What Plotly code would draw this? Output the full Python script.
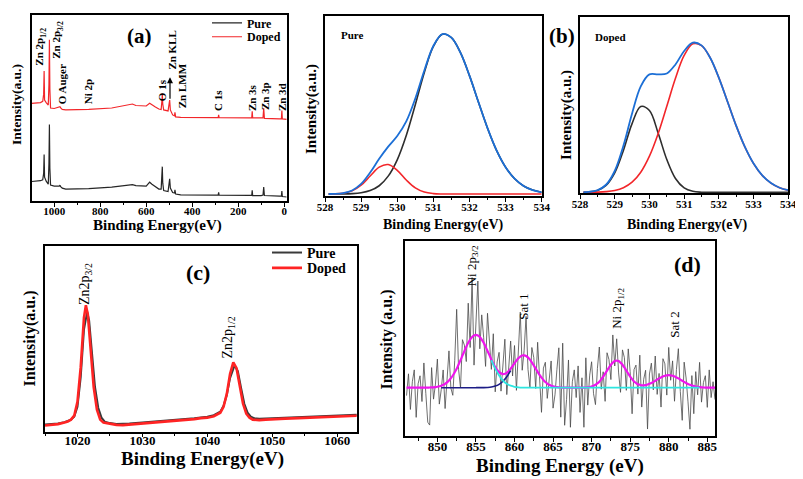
import plotly.graph_objects as go

FONT = "Liberation Serif, Times New Roman, serif"
# the page body adds an 8px margin, so the figure is drawn 8px smaller and shifted
OFF = 8
W, H = 803 - OFF, 479 - OFF

# ---- (a) survey spectra ----
survey_be = [1098, 1060, 1050, 1046, 1044, 1042, 1035, 1026, 1023, 1021, 1019, 1016,
             1000, 978, 975, 972, 965, 950, 850, 750, 660, 645, 600, 585, 575, 560,
             545, 535, 531, 530, 528, 524, 505, 500, 498, 495, 485, 477, 475, 472,
             450, 300, 287, 285, 283, 150, 141, 139, 137, 100, 92, 89, 86, 20, 12,
             10, 8, -11]
survey_pure = [19.7, 20.5, 21.5, 28, 47, 24, 20, 17, 38, 77.3, 33, 16,
               15, 15, 16, 14.5, 13, 12, 12.5, 14, 16.5, 15.5, 15, 19, 17, 14.5,
               12, 12, 23, 34.7, 18, 10.5, 9.5, 16, 22.3, 13, 8.5, 8, 11.3, 7,
               6.2, 6, 6, 8.7, 6, 5.7, 5.7, 10.7, 5.5, 5.5, 6, 14, 5.5, 5, 5,
               10, 4.5, 4]
survey_doped = [98.7, 99.5, 100.7, 108, 131.3, 102, 99.5, 97, 118, 163, 113, 94,
                93.5, 94.5, 95.3, 94, 92.5, 92, 92.5, 94, 98, 96.5, 96, 98.7, 97, 95,
                93, 92.5, 103, 108.7, 98, 92, 91, 98, 102, 92, 87, 86, 89.7, 85,
                84.5, 84.2, 84.2, 87, 84.2, 84, 84, 90.7, 84, 84, 84, 93.7, 83.5, 83, 83,
                91.3, 83, 82.5]

# ---- O 1s fits (pure / doped) ----
o1s_be = [528.1, 528.25, 528.5, 528.75, 529.0, 529.25, 529.5, 529.75, 530.0, 530.25,
          530.5, 530.75, 531.0, 531.25, 531.5, 531.75, 532.0, 532.25, 532.5, 532.75,
          533.0, 533.25, 533.5, 533.75, 534.0]
pure_main = [0.01, 0.03, 0.13, 0.43, 1.3, 3.5, 8.4, 18.1, 34.6, 59.2, 90.3, 122.9, 149.2,
             161.6, 158.1, 142.9, 119.7, 92.8, 66.6, 44.2, 27.2, 15.5, 8.2, 4.0, 1.8]
pure_low = [0.05, 0.17, 0.85, 3.2, 8.9, 18.2, 27.2, 29.8, 24.0, 14.2, 6.2, 2.0, 0.46,
            0.08, 0, 0, 0, 0, 0, 0, 0, 0, 0, 0, 0]
pure_env = [0.06, 0.2, 1.0, 3.6, 10.2, 21.7, 35.6, 47.9, 58.6, 73.4, 96.5, 124.9, 149.7,
            161.7, 158.1, 142.9, 119.7, 92.8, 66.6, 44.2, 27.2, 15.5, 8.2, 4.0, 1.8]
doped_main = [0.03, 0.08, 0.25, 0.73, 1.9, 4.7, 10.3, 20.4, 36.6, 59.3, 87.0, 115.3, 138.4,
              150.2, 148.4, 136.0, 115.8, 91.6, 67.2, 45.9, 29.1, 17.1, 9.4, 4.7, 2.2]
doped_low = [0.13, 0.39, 1.9, 7.0, 19.7, 42.4, 69.5, 86.8, 82.7, 60.0, 33.2, 14.0, 4.5,
             1.1, 0.2, 0, 0, 0, 0, 0, 0, 0, 0, 0, 0]
doped_env = [0.16, 0.47, 2.15, 7.7, 21.6, 47.1, 79.8, 107.2, 119.3, 119.3, 120.2, 129.3,
             142.9, 151.3, 148.6, 136.0, 115.8, 91.6, 67.2, 45.9, 29.1, 17.1, 9.4, 4.7, 2.2]

# ---- (c) Zn 2p ----
zn_be_doped = [1015, 1016, 1017, 1018, 1018.5, 1019, 1019.5, 1020, 1020.5, 1021, 1021.3,
               1021.6, 1022, 1022.5, 1023, 1023.5, 1024, 1025, 1026, 1027, 1028, 1029,
               1030, 1031, 1032, 1033, 1034, 1035, 1036, 1037, 1038, 1039, 1040, 1041,
               1042, 1042.5, 1043, 1043.5, 1044, 1044.5, 1045, 1045.5, 1046, 1046.5,
               1047, 1048, 1049, 1050, 1052, 1054, 1056, 1058, 1060, 1062, 1063]
zn_doped = [6, 6.5, 7.5, 9, 10, 12, 16, 30, 65, 115, 127.7,
            118, 85, 45, 22, 12, 9, 7.5, 6.7, 6.5, 7, 7.5,
            8, 8.5, 9, 9.5, 10.5, 11, 11.5, 12, 12.5, 13.5, 14, 15.5,
            19, 25, 38, 58, 70, 64, 45, 28, 18, 14,
            12, 11.5, 12, 12.5, 13, 13.5, 14, 14.5, 15, 15.5, 16]
zn_be_pure = [1015, 1016, 1017, 1018, 1018.5, 1019, 1019.5, 1020, 1020.5, 1021, 1021.5,
              1021.8, 1022.2, 1022.7, 1023.2, 1023.7, 1024.2, 1025, 1026, 1027, 1028,
              1030, 1032, 1034, 1036, 1038, 1040, 1041, 1042, 1042.5, 1043, 1043.5,
              1044.2, 1044.7, 1045.2, 1045.7, 1046.2, 1046.7, 1047.2, 1048, 1050, 1052,
              1054, 1056, 1058, 1060, 1063]
zn_pure = [7, 7.5, 8, 9.5, 10.5, 12, 15, 25, 55, 103, 121,
           112, 82, 45, 24, 14, 10, 8.5, 7.5, 7.5, 8,
           9, 10, 11.5, 12.5, 13.5, 15, 16.5, 20, 26, 37, 54,
           66.7, 61, 44, 28, 19, 15, 13.5, 13, 13.5, 14,
           14.5, 15, 15.5, 16, 17]

# ---- (d) Ni 2p ----
ni_be = [846 + 0.25 * i for i in range(161)]
ni_raw = [-8, 14, -22, 6, 18, -30, 4, 12, -14, 25,
          -5.9, -34.9, -37.8, 20.3, -11.6, 3.6, 28.9, -16.6, -2, 17.9,
          -21.1, 13.4, 37.2, -0.4, -7.7, 27.6, 79.2, 18.5, -0.2, 48.5,
          43, 26.4, 85.4, 40.6, 111.3, 22.8, 63.4, 107.8, 39.3, 73.6,
          50.5, 21.5, 75.2, 47.9, 18.5, 54.5, -4.2, 26, 35.7, -3.5,
          25.7, 49, -7, 21.8, 47.2, 11.8, 42.6, -2.7, 39.7, 76.4,
          17.6, 37.7, 72.1, 18.5, 0.4, 40.6, 30.4, -0.8, 45.9, 7.9,
          -24.9, 19.8, 25.7, -10.8, 7.9, 27, -20.7, -7.2, 18.5, 40.3,
          -29.8, 45, -38, -12, 28, -40, 6, 18, -10, 22,
          -25, 10, -40, 30.2, -17.6, 12.7, 26.2, -6.1, -17.1, 19.3,
          41.1, -1.5, 16.1, -13.8, 35.3, 28.4, 8.2, 53.3, 21.9, 49.4,
          14.9, -4.7, 38.2, 30.4, -2.7, 39.2, 16.2, -26.4, 18.3, 22.8,
          -6.5, 32.9, -19.6, 8.4, 17.6, -41.8, 13.9, 24.8, -2.2, 32,
          -6.8, 14.4, -19.6, 29.3, 24.1, -7.5, 40.7, 7.5, 27.1, -13.7,
          18.4, 39.4, -3.8, -33, 25.8, 9.8, -14.3, -42, 12.2, -26.3,
          16.2, -7.2, 25.6, -14.6, 5.2, 12.1, -19.9, 18, -10, 6,
          -12]
ni_env = [0, 0, 0, 0, 0, 0, 0, 0, 0, 0,
          0.1, 0.1, 0.2, 0.3, 0.4, 0.6, 0.9, 1.4, 2.0, 2.9,
          3.9, 5.4, 7.2, 9.6, 12.3, 15.6, 19.2, 23.5, 27.8, 32.5,
          37.0, 41.4, 45.4, 48.6, 51.3, 52.8, 53.4, 52.8, 51.3, 48.6,
          45.5, 41.5, 37.2, 32.9, 28.5, 24.5, 20.8, 18.0, 15.7, 14.5,
          13.7, 14.0, 15.0, 16.8, 19.2, 21.8, 24.6, 27.3, 29.7, 31.4,
          32.6, 32.7, 32.1, 30.5, 28.4, 25.6, 22.4, 19.2, 15.9, 12.9,
          10.1, 7.8, 5.7, 4.2, 2.9, 2.0, 1.3, 0.8, 0.5, 0.3,
          0.2, 0.1, 0.1, 0, 0, 0, 0, 0, 0, 0,
          0, 0, 0, 0.2, 0.4, 0.7, 1.2, 1.9, 2.9, 4.3,
          6.1, 8.5, 11.1, 14.2, 17.3, 20.4, 23.2, 25.3, 26.9, 27.4,
          26.9, 25.3, 23.2, 20.4, 17.3, 14.2, 11.2, 8.6, 6.3, 4.8,
          3.5, 2.9, 2.4, 2.4, 2.6, 3.2, 3.9, 4.8, 5.8, 7.0,
          8.2, 9.4, 10.4, 11.3, 12.1, 12.5, 12.7, 12.5, 12.1, 11.3,
          10.4, 9.4, 8.2, 7.0, 5.8, 4.8, 3.75, 3.0, 2.2, 1.7,
          1.2, 0.8, 0.6, 0.4, 0.2, 0.1, 0.1, 0, 0, 0,
          0]
sat1_be = [850.5, 851, 852, 853, 854, 855, 856, 856.5, 857, 857.5, 858, 858.5, 859, 859.5]
sat1_fit = [0, 0, 0, 0, 0, 0, 0.08, 0.24, 0.65, 1.6, 3.4, 6.5, 11.1, 17.2]
main_be = [857, 857.5, 858, 858.5, 859, 859.5, 860, 860.5, 861, 862, 866, 870, 876, 878, 884]
main_fit = [27.8, 19.2, 12.3, 7.2, 3.9, 2.0, 0.9, 0.4, 0.15, 0, 0, 0, 0, 0, 0]

BLACK = "#262626"
RED = "#f2262a"
BLUE = "#1c6fd6"

fig = go.Figure()


def line(x, y, color, width, ax, name=None, legend=None, shape="linear"):
    fig.add_trace(go.Scatter(
        x=x, y=y, mode="lines", name=name,
        line=dict(color=color, width=width, shape=shape),
        xaxis="x" + ax, yaxis="y" + ax,
        showlegend=legend is not None, legend=legend or "legend",
        hoverinfo="skip",
    ))


line(survey_be, survey_pure, BLACK, 1.2, "", "Pure", "legend")
line(survey_be, survey_doped, RED, 1.2, "", "Doped", "legend2")

line(o1s_be, pure_main, "#2e2e2e", 1.6, "2", shape="spline")
line(o1s_be, pure_low, RED, 1.6, "2", shape="spline")
line(o1s_be, pure_env, BLUE, 1.8, "2", shape="spline")

line(o1s_be, doped_low, "#2e2e2e", 1.6, "3", shape="spline")
line(o1s_be, doped_main, RED, 1.6, "3", shape="spline")
line(o1s_be, doped_env, BLUE, 1.8, "3", shape="spline")

line(zn_be_pure, zn_pure, "#3a3a3a", 2.0, "4", "Pure", "legend3")
line(zn_be_doped, zn_doped, "#ff2424", 2.6, "4", "Doped", "legend4")

line(ni_be, ni_raw, "#4a4a4a", 0.8, "5")
line(ni_be, ni_env, "#f014ee", 2.2, "5", shape="spline")
line(sat1_be, sat1_fit, "#1c1c86", 1.6, "5", shape="spline")
line(main_be, main_fit, "#2ee6e0", 1.8, "5", shape="spline")


# reference pixel positions -> paper fractions
def fx(x):
    return (x - OFF) / W


def fy(y):
    return 1 - (y - OFF) / H


def px(x0, x1):
    return [fx(x0), fx(x1)]


def py(top, bottom):
    return [fy(bottom), fy(top)]


def xaxis(domain, rng, dtick, minor, size, anchor, standoff):
    return dict(domain=domain, range=rng, anchor=anchor, dtick=dtick, tick0=0,
                automargin=False, ticklabelstandoff=standoff,
                ticks="outside", ticklen=4, tickwidth=1.2, tickcolor="black",
                showline=True, linecolor="black", linewidth=1.5, mirror=True,
                showgrid=False, zeroline=False,
                tickfont=dict(family=FONT, size=size, color="black", weight="bold"),
                minor=dict(dtick=minor, ticks="outside", ticklen=2.5, tickcolor="black",
                           showgrid=False))


def yaxis(domain, rng, anchor):
    return dict(domain=domain, range=rng, anchor=anchor, showline=True, linecolor="black",
                automargin=False,
                linewidth=1.5, mirror=True, ticks="", showticklabels=False,
                showgrid=False, zeroline=False)


fig.update_layout(
    xaxis=xaxis(px(31.7, 286.7), [1098, -11], 200, 100, 11, "y", -5),
    yaxis=yaxis(py(10, 198), [0, 188], "x"),
    xaxis2=xaxis(px(325, 541.7), [528, 534], 1, 0.5, 11, "y2", -4),
    yaxis2=yaxis(py(11, 193), [-2, 180], "x2"),
    xaxis3=xaxis(px(580, 788.3), [528, 534], 1, 0.5, 11, "y3", -4),
    yaxis3=yaxis(py(12.3, 190), [-0.7, 177], "x3"),
    xaxis4=xaxis(px(45, 357.3), [1015, 1063.1], 10, 5, 13, "y4", -8),
    yaxis4=yaxis(py(243.3, 431), [0, 187.7], "x4"),
    xaxis5=xaxis(px(405, 715), [845.8, 886], 5, 2.5, 13, "y5", -7),
    yaxis5=yaxis(py(238.3, 436), [-49.3, 148.4], "x5"),
)


def lab(text, x, y, size, angle=0, bold=True):
    fig.add_annotation(
        text=f"<b>{text}</b>" if bold else text,
        x=fx(x), y=fy(y), xref="paper", yref="paper",
        showarrow=False, textangle=angle, xanchor="center", yanchor="middle",
        font=dict(family=FONT, size=size, color="black"),
    )


# panel (a)
lab("(a)", 139, 31, 21)
lab("Zn 2p<sub>1/2</sub>", 40, 42, 11, -90)
lab("Zn 2p<sub>3/2</sub>", 57, 35, 11, -90)
lab("O Auger", 62, 80, 11, -90)
lab("Ni 2p", 88, 88, 11, -90)
lab("O 1s", 162, 86, 11, -90)
lab("Zn KLL", 172, 46, 11, -90)
lab("Zn LMM", 182, 82, 11, -90)
lab("C 1s", 218, 97, 11, -90)
lab("Zn 3s", 252, 94, 11, -90)
lab("Zn 3p", 265, 92, 11, -90)
lab("Zn 3d", 282, 93, 11, -90)
lab("Intensity(a.u.)", 16, 101, 13.5, -90)
lab("Binding Energy(eV)", 157, 223, 15)
fig.add_annotation(x=fx(170), y=fy(73), xref="paper", yref="paper", text="",
                   showarrow=True, ax=0, ay=23, arrowhead=2, arrowsize=1,
                   arrowwidth=1.2, arrowcolor="black")

# pure / doped O 1s
lab("Pure", 352, 30, 11)
lab("Intensity(a.u.)", 312, 105, 15, -90)
lab("Binding Energy(eV)", 443, 222, 14)
lab("(b)", 562, 31, 21)
lab("Doped", 610, 32, 11)
lab("Intensity(a.u.)", 567, 111, 15, -90)
lab("Binding Energy(eV)", 687, 222, 14)

# panel (c)
lab("(c)", 198, 270, 22)
lab("Zn2p<sub>3/2</sub>", 85, 282, 14, -90, bold=False)
lab("Zn2p<sub>1/2</sub>", 229, 336, 14, -90, bold=False)
lab("Intensity(a.u.)", 30, 337, 16, -90)
lab("Binding Energy(eV)", 202, 459, 19)

# panel (d)
lab("(d)", 687, 262, 22)
lab("Ni 2p<sub>3/2</sub>", 472, 264, 13, -90, bold=False)
lab("Sat 1", 524, 305, 13, -90, bold=False)
lab("Ni 2p<sub>1/2</sub>", 618, 307, 13, -90, bold=False)
lab("Sat 2", 675, 323, 13, -90, bold=False)
lab("Intensity (a.u.)", 387, 338, 16, -90)
lab("Binding Energy (eV)", 560, 466, 19)


def leg(x, y, size):
    return dict(x=fx(x), y=fy(y), xanchor="left", yanchor="middle",
                bgcolor="rgba(0,0,0,0)", itemwidth=30,
                font=dict(family=FONT, size=size, color="black", weight="bold"))


fig.update_layout(
    width=W, height=H,
    margin=dict(l=0, r=0, t=0, b=0),
    paper_bgcolor="white", plot_bgcolor="white",
    legend=leg(207, 18, 12),
    legend2=leg(207, 32, 12),
    legend3=leg(267, 250.5, 14),
    legend4=leg(267, 266, 14),
)

fig.write_html("out.html")
